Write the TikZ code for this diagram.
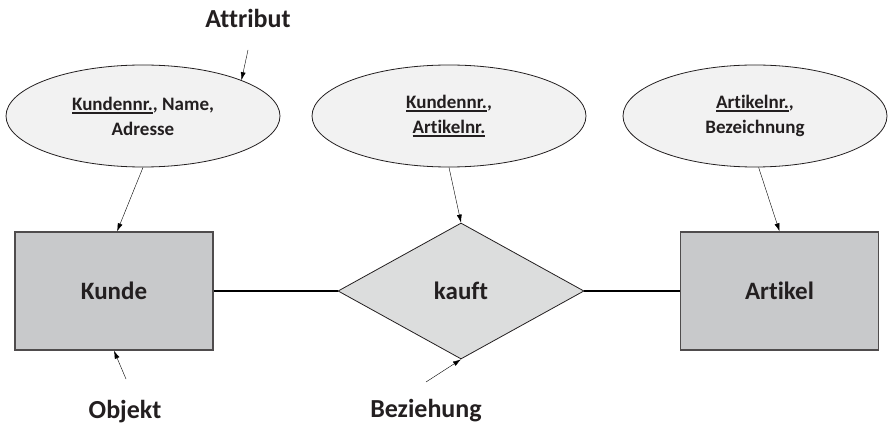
\documentclass[tikz,border=0pt]{standalone}
\usepackage{fontspec}
\setmainfont{Carlito}[Ligatures=NoCommon]
\usepackage{tikz}
\usetikzlibrary{arrows.meta}
\usetikzlibrary{shapes.geometric}
\definecolor{ink}{HTML}{231F20}
\definecolor{attrfill}{HTML}{F2F2F2}
\definecolor{objfill}{HTML}{C8C9CB}
\definecolor{relfill}{HTML}{DCDDDD}
\tikzset{>={Latex[length=8pt,width=5pt]}}
\tikzstyle{objekt} = [rectangle, draw=ink!80, line width=1.4pt, fill=objfill, minimum width=198pt, minimum height=118pt, font=\fontsize{25}{30}\selectfont\bfseries, text=ink]
\tikzstyle{attribut} = [ellipse, draw=ink, line width=0.8pt, fill=attrfill, minimum width=274pt, minimum height=102pt, inner sep=0pt, align=center, font=\fontsize{19}{25}\selectfont\bfseries, text=ink]
\tikzstyle{beziehung} = [diamond, draw=ink, line width=0.8pt, fill=relfill, aspect=1.8, minimum width=246pt, minimum height=136pt, inner sep=0pt, font=\fontsize{25}{30}\selectfont\bfseries, text=ink]
\tikzstyle{marke} = [draw=none, font=\fontsize{26}{30}\selectfont\bfseries, text=ink]
\newcommand{\schluessel}[1]{\setbox0\hbox{#1}\leavevmode\rlap{\rule[-3.5pt]{\wd0}{1.6pt}}\box0}

\begin{document}
\begin{tikzpicture}[x=1pt, y=-1pt]
\useasboundingbox (0,0) rectangle (890,430);
\node [objekt] (kunde) at (114, 291) {Kunde};
\node [beziehung] (kauft) at (461, 291) {kauft};
\node [objekt] (artikel) at (779.5, 291) {Artikel};
\node [attribut] (attrK) at (143, 116) {\schluessel{Kundennr.}, Name,\\Adresse};
\node [attribut] (attrB) at (449, 116) {\schluessel{Kundennr.},\\\schluessel{Artikelnr.}};
\node [attribut, minimum width=264pt] (attrA) at (755, 116) {\schluessel{Artikelnr.},\\Bezeichnung};
\draw [line width=1.2pt] (kunde) -- (kauft);
\draw [line width=1.2pt] (kauft) -- (artikel);
\draw [->, thin] (attrK.south) -- (kunde.87);
\draw [->, thin] (attrB.south) -- (kauft.north);
\draw [->, thin] (attrA.-86) -- (artikel.north);
% Beschriftungen
\node [marke] (lAttr) at (248, 18) {Attribut};
\node [marke] (lObj) at (125, 412) {Objekt};
\node [marke] (lBez) at (426, 411) {Beziehung};
\coordinate (tAttr) at (248, 50);
\coordinate (tObj) at (126, 379);
\coordinate (tBez) at (426, 382);
\draw [->, thin] (tAttr) -- (attrK.20);
\draw [->, thin] (tObj) -- (kunde.south);
\draw [->, thin] (tBez) -- (kauft.south);
\end{tikzpicture}
\end{document}
